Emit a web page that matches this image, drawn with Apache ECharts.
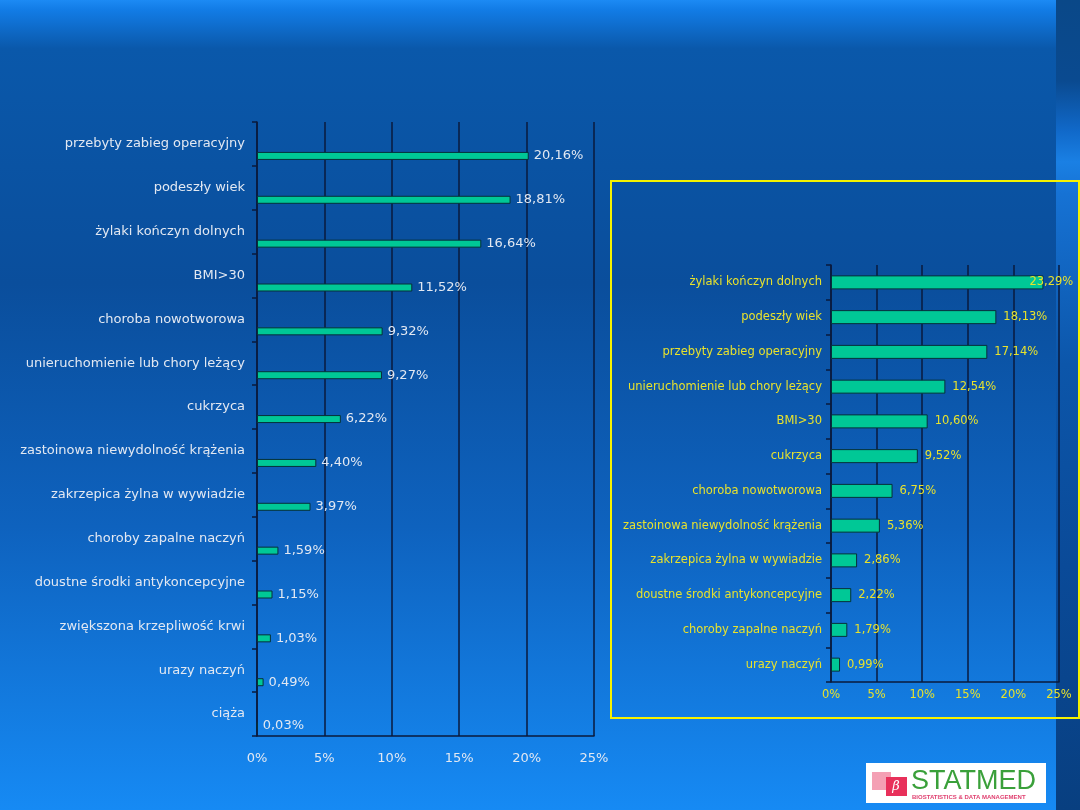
<!DOCTYPE html>
<html>
<head>
<meta charset="utf-8">
<script src="https://cdn.jsdelivr.net/npm/echarts@6/dist/echarts.min.js"></script>
<style>html,body{margin:0;padding:0;}#c{width:1080px;height:810px;}</style>
</head>
<body>
<div id="c"></div>
<script>
// ---- data ----
var leftCategories = [
  'przebyty zabieg operacyjny', 'podeszły wiek', 'żylaki kończyn dolnych', 'BMI>30',
  'choroba nowotworowa', 'unieruchomienie lub chory leżący', 'cukrzyca',
  'zastoinowa niewydolność krążenia', 'zakrzepica żylna w wywiadzie',
  'choroby zapalne naczyń', 'doustne środki antykoncepcyjne',
  'zwiększona krzepliwość krwi', 'urazy naczyń', 'ciąża'
];
var leftValues = [20.16, 18.81, 16.64, 11.52, 9.32, 9.27, 6.22, 4.40, 3.97, 1.59, 1.15, 1.03, 0.49, 0.03];

var rightCategories = [
  'żylaki kończyn dolnych', 'podeszły wiek', 'przebyty zabieg operacyjny',
  'unieruchomienie lub chory leżący', 'BMI>30', 'cukrzyca', 'choroba nowotworowa',
  'zastoinowa niewydolność krążenia', 'zakrzepica żylna w wywiadzie',
  'doustne środki antykoncepcyjne', 'choroby zapalne naczyń', 'urazy naczyń'
];
var rightValues = [23.29, 18.13, 17.14, 12.54, 10.60, 9.52, 6.75, 5.36, 2.86, 2.22, 1.79, 0.99];

var axisMin = 0, axisMax = 25, axisStep = 5;

// ---- helpers ----
function pct(v) { return v.toFixed(2).replace('.', ',') + '%'; }
var lineDark = '#0a1a3c';
var barFill = '#00c896';
var barBorder = '#06303a';
var leftText = '#e2e8f2';
var yellow = '#e8e22c';

var chart = echarts.init(document.getElementById('c'), null, {renderer: 'canvas'});

var rightData = rightValues.map(function (v, i) {
  if (i === 0) return {value: v, label: {offset: [-21, 0]}};
  return v;
});

var option = {
  animation: false,
  backgroundColor: {
    type: 'linear', x: 0, y: 0, x2: 0, y2: 1,
    colorStops: [
      {offset: 0, color: '#1c8af4'},
      {offset: 0.012, color: '#127ce6'},
      {offset: 0.06, color: '#0a58aa'},
      {offset: 0.35, color: '#0a4e9c'},
      {offset: 0.65, color: '#0e62be'},
      {offset: 1, color: '#168af4'}
    ]
  },
  graphic: [
    {
      type: 'rect', z: -1, silent: true,
      shape: {x: 1056, y: 0, width: 24, height: 810},
      style: {
        fill: {
          type: 'linear', x: 0, y: 0, x2: 0, y2: 1,
          colorStops: [
            {offset: 0, color: '#0a4888'},
            {offset: 0.1, color: '#0a4a90'},
            {offset: 0.16, color: '#1068c8'},
            {offset: 0.2, color: '#1a80e4'},
            {offset: 0.24, color: '#1672d4'},
            {offset: 0.45, color: '#0c56aa'},
            {offset: 0.7, color: '#0a4a98'},
            {offset: 1, color: '#083f80'}
          ]
        }
      }
    },
    {
      type: 'rect', z: 10, silent: true,
      shape: {x: 611, y: 181, width: 468, height: 537},
      style: {fill: 'none', stroke: '#f6f200', lineWidth: 2}
    },
    {
      type: 'group', z: 10,
      children: [
        {type: 'rect', shape: {x: 866, y: 763, width: 180, height: 40}, style: {fill: '#ffffff'}},
        {type: 'rect', shape: {x: 872, y: 772, width: 19, height: 18}, style: {fill: '#f4a0b4'}},
        {type: 'rect', shape: {x: 886, y: 777, width: 21, height: 19}, style: {fill: '#e8305a'}},
        {type: 'text', style: {x: 896, y: 787, text: 'β', fill: '#ffffff', font: 'italic 13px "DejaVu Serif"', align: 'center', verticalAlign: 'middle'}},
        {type: 'text', style: {x: 911, y: 782, text: 'STATMED', fill: '#3aa03a', font: '27px "Liberation Sans"', verticalAlign: 'middle'}},
        {type: 'text', style: {x: 912, y: 797, text: 'BIOSTATISTICS & DATA MANAGEMENT', fill: '#e04070', font: 'bold 6px "Liberation Sans"', verticalAlign: 'middle'}}
      ]
    }
  ],
  grid: [
    {left: 257, right: 486, top: 122, bottom: 74},
    {left: 831, right: 21, top: 265, bottom: 128}
  ],
  xAxis: [
    {
      gridIndex: 0, type: 'value', min: axisMin, max: axisMax, interval: axisStep,
      axisLine: {show: true, lineStyle: {color: lineDark, width: 1.5}},
      axisTick: {show: false},
      splitLine: {show: true, lineStyle: {color: lineDark, width: 1.5}},
      axisLabel: {color: leftText, fontFamily: 'DejaVu Sans', fontSize: 13, margin: 16,
        formatter: function (v) { return v + '%'; }}
    },
    {
      gridIndex: 1, type: 'value', min: axisMin, max: axisMax, interval: axisStep,
      axisLine: {show: true, lineStyle: {color: lineDark, width: 1.5}},
      axisTick: {show: false},
      splitLine: {show: true, lineStyle: {color: lineDark, width: 1.5}},
      axisLabel: {color: yellow, fontFamily: 'DejaVu Sans', fontSize: 11.5, margin: 7,
        formatter: function (v) { return v + '%'; }}
    }
  ],
  yAxis: [
    {
      gridIndex: 0, type: 'category', inverse: true, data: leftCategories,
      axisLine: {show: true, lineStyle: {color: lineDark, width: 1.5}},
      axisTick: {show: true, length: 5, lineStyle: {color: lineDark, width: 1.5}},
      axisLabel: {color: leftText, fontFamily: 'DejaVu Sans', fontSize: 13, margin: 12}
    },
    {
      gridIndex: 1, type: 'category', inverse: true, data: rightCategories,
      axisLine: {show: true, lineStyle: {color: lineDark, width: 1.5}},
      axisTick: {show: true, length: 5, lineStyle: {color: lineDark, width: 1.5}},
      axisLabel: {color: yellow, fontFamily: 'DejaVu Sans', fontSize: 11.5, margin: 9}
    }
  ],
  series: [
    {
      name: 'spacer', type: 'bar', xAxisIndex: 0, yAxisIndex: 0,
      data: leftValues.map(function () { return 0; }),
      barWidth: 8, barGap: '200%', silent: true,
      itemStyle: {opacity: 0}, label: {show: false}
    },
    {
      name: 'left', type: 'bar', xAxisIndex: 0, yAxisIndex: 0,
      data: leftValues, barWidth: 8, barGap: '200%',
      itemStyle: {color: barFill, borderColor: barBorder, borderWidth: 1},
      label: {show: true, position: 'right', distance: 5, color: leftText,
        fontFamily: 'DejaVu Sans', fontSize: 13,
        formatter: function (p) { return pct(p.value); }}
    },
    {
      name: 'right', type: 'bar', xAxisIndex: 1, yAxisIndex: 1,
      data: rightData, barWidth: 14,
      itemStyle: {color: barFill, borderColor: barBorder, borderWidth: 1},
      label: {show: true, position: 'right', distance: 7, color: yellow,
        fontFamily: 'DejaVu Sans', fontSize: 11.5,
        formatter: function (p) { return pct(p.value); }}
    }
  ]
};
chart.setOption(option);
</script>
</body>
</html>
